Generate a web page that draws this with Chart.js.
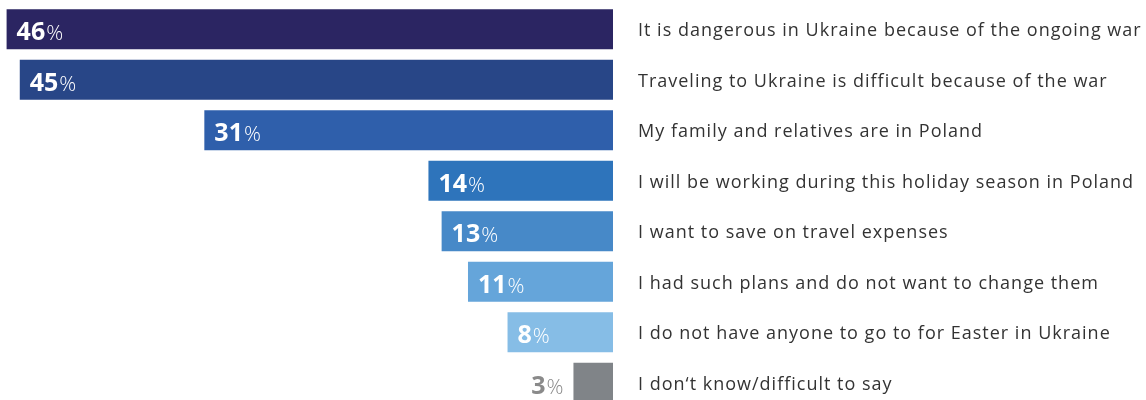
<!DOCTYPE html>
<html lang="en">
<head>
    <meta charset="UTF-8">
    <title>Reasons for staying in Poland</title>
    <style>
        html, body {
            margin: 0;
            padding: 0;
            background: #ffffff;
            overflow: hidden;
        }
        #wrap {
            width: 1146px;
            height: 408px;
        }
    </style>
</head>
<body>
    <div id="wrap"><canvas id="grafico"></canvas></div>

    <script src="https://cdn.jsdelivr.net/npm/chart.js"></script>
    <script>
        // dados
        var categorias = [
            'It is dangerous in Ukraine because of the ongoing war',
            'Traveling to Ukraine is difficult because of the war',
            'My family and relatives are in Poland',
            'I will be working during this holiday season in Poland',
            'I want to save on travel expenses',
            'I had such plans and do not want to change them',
            'I do not have anyone to go to for Easter in Ukraine',
            'I don\u2018t know/difficult to say'
        ];
        var valores = [46, 45, 31, 14, 13, 11, 8, 3];
        var cores = ['#2b2562', '#284687', '#2f5fab', '#2e74bb', '#4789c8', '#65a5da', '#86bde6', '#808488'];

        var fonteTexto = "'Open Sans', 'Noto Sans', sans-serif";

        // rótulos: número em negrito + % menor, e o texto da categoria à direita
        var rotulos = {
            id: 'rotulos',
            afterDatasetsDraw: function(chart) {
                var ctx = chart.ctx;
                var meta = chart.getDatasetMeta(0);
                var area = chart.chartArea;
                ctx.save();
                ctx.textBaseline = 'alphabetic';
                ctx.textAlign = 'left';
                meta.data.forEach(function(bar, i) {
                    var num = String(valores[i]);
                    var esquerda = Math.min(bar.x, bar.base);
                    var yBase = bar.y + 11;
                    ctx.letterSpacing = '0px';
                    ctx.font = 'bold 25px ' + fonteTexto;
                    var wNum = ctx.measureText(num).width;
                    ctx.font = '300 21px ' + fonteTexto;
                    var wPct = ctx.measureText('%').width;
                    var x;
                    if (i === valores.length - 1) {
                        ctx.fillStyle = '#8a8a8a';
                        x = esquerda - 11 - wNum - wPct;
                    } else {
                        ctx.fillStyle = '#ffffff';
                        x = esquerda + 10;
                    }
                    ctx.font = 'bold 25px ' + fonteTexto;
                    ctx.fillText(num, x, yBase);
                    ctx.font = '300 21px ' + fonteTexto;
                    ctx.fillText('%', x + wNum + 1, yBase);

                    // texto da categoria
                    ctx.fillStyle = '#333333';
                    ctx.font = '18px ' + fonteTexto;
                    ctx.letterSpacing = '1px';
                    ctx.fillText(categorias[i], area.right + 25, bar.y + 7);
                });
                ctx.restore();
            }
        };

        var ctx = document.getElementById('grafico').getContext('2d');
        var grafico = new Chart(ctx, {
            type: 'bar',
            data: {
                labels: categorias,
                datasets: [{
                    data: valores,
                    backgroundColor: cores,
                    borderWidth: 0,
                    barPercentage: 0.88,
                    categoryPercentage: 0.9
                }]
            },
            options: {
                indexAxis: 'y',
                responsive: true,
                maintainAspectRatio: false,
                animation: false,
                layout: {
                    padding: { top: 4, left: 0, right: 0, bottom: 0 }
                },
                scales: {
                    x: {
                        reverse: true,
                        min: 0,
                        max: 46.5,
                        display: false
                    },
                    y: {
                        position: 'right',
                        grid: { display: false },
                        border: { display: false },
                        afterFit: function(scale) {
                            scale.width = 533;
                        },
                        ticks: { display: false }
                    }
                },
                plugins: {
                    legend: { display: false },
                    tooltip: { enabled: false }
                }
            },
            plugins: [rotulos]
        });
    </script>
</body>
</html>
